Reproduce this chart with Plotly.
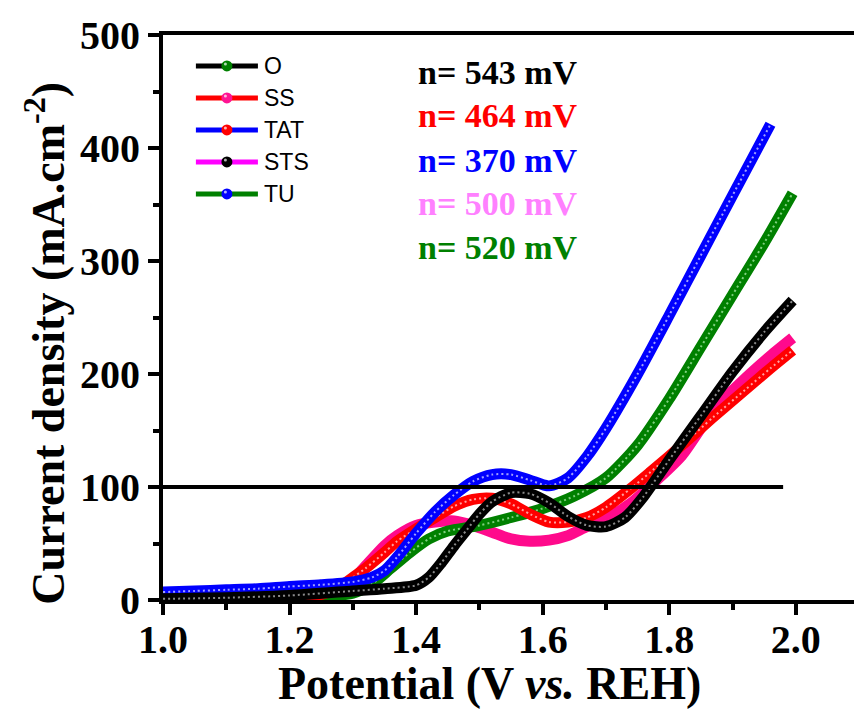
import plotly.graph_objects as go

# ---------------- data ----------------
x_O = [1.00, 1.10, 1.20, 1.30, 1.35, 1.40, 1.42, 1.44, 1.46, 1.48, 1.50, 1.52, 1.55,
       1.58, 1.61, 1.64, 1.67, 1.70, 1.73, 1.76, 1.80, 1.85, 1.90, 1.95, 1.995]
y_O = [1, 2, 4, 8, 10, 13, 20, 33, 48, 62, 76, 87, 95,
       94, 86, 74, 66, 65, 73, 92, 124, 163, 202, 237, 265]

x_SS = [1.00, 1.10, 1.20, 1.25, 1.28, 1.30, 1.32, 1.35, 1.37, 1.40, 1.43, 1.46, 1.49, 1.52,
        1.55, 1.58, 1.61, 1.64, 1.67, 1.70, 1.74, 1.77, 1.82, 1.87, 1.92, 1.96, 1.995]
y_SS = [0.5, 1, 2, 5, 12, 20, 28, 42, 52, 63, 73, 83, 89, 90,
        85, 76, 69, 69, 73, 82, 99, 113, 137, 162, 186, 205, 221]

x_TAT = [1.00, 1.05, 1.10, 1.15, 1.20, 1.25, 1.30, 1.33, 1.35, 1.37, 1.40, 1.43, 1.46,
         1.49, 1.52, 1.55, 1.58, 1.61, 1.64, 1.67, 1.70, 1.75, 1.80, 1.85, 1.90, 1.96]
y_TAT = [7, 8, 9, 10, 12, 13.5, 16, 20, 26, 38, 59, 78, 93,
         105, 111, 111, 106, 101, 108, 127, 152, 200, 252, 305, 358, 421]

x_STS = [1.00, 1.10, 1.20, 1.25, 1.28, 1.30, 1.32, 1.35, 1.37, 1.40, 1.43, 1.46, 1.49, 1.52,
         1.55, 1.58, 1.61, 1.64, 1.67, 1.70, 1.74, 1.78, 1.82, 1.87, 1.92, 1.96, 1.995]
y_STS = [0.5, 1, 2, 5, 12, 18, 30, 48, 57, 66, 69, 70, 66, 60,
         54, 52, 53, 57, 65, 72, 86, 106, 128, 168, 196, 216, 232]

x_TU = [1.00, 1.10, 1.20, 1.25, 1.30, 1.33, 1.36, 1.39, 1.42, 1.45, 1.50, 1.55, 1.60,
        1.65, 1.70, 1.75, 1.80, 1.85, 1.90, 1.95, 1.995]
y_TU = [0.5, 1, 2, 3, 6, 14, 28, 42, 54, 61, 66, 73, 81,
        92, 108, 137, 178, 224, 270, 316, 360]

ref_level = 100
ref_x = [1.0, 1.98]

legend_labels = ["O", "SS", "TAT", "STS", "TU"]
legend_line_colors = ["#000000", "#FF0000", "#0000FF", "#FF00FF", "#008000"]
legend_ball_colors = ["#008000", "#FF1493", "#FF0000", "#000000", "#0000FF"]

eta_texts = ["n= 543 mV", "n= 464 mV", "n= 370 mV", "n= 500 mV", "n= 520 mV"]
eta_colors = ["#000000", "#FF0000", "#0000FF", "#FF80FF", "#008000"]

x_ticks = [1.0, 1.2, 1.4, 1.6, 1.8, 2.0]
y_ticks = [0, 100, 200, 300, 400, 500]

# ---------------- figure ----------------
fig = go.Figure()

# drawing order (bottom -> top): STS, TU, SS, TAT, O
series = [
    (x_STS, y_STS, "#FF0A8C", "#FF7FC0", False),
    (x_TU, y_TU, "#008000", "#7FD07F", True),
    (x_SS, y_SS, "#FF0000", "#FFA0A0", True),
    (x_TAT, y_TAT, "#0000FF", "#A0A0FF", True),
    (x_O, y_O, "#000000", "#8A8A8A", True),
]
for xs, ys, col, hi, beads in series:
    fig.add_trace(go.Scatter(x=xs, y=ys, mode="lines",
                             line=dict(color=col, width=11, shape="spline", smoothing=0.7),
                             showlegend=False, hoverinfo="skip"))
    if beads:
        fig.add_trace(go.Scatter(x=xs, y=ys, mode="lines",
                                 line=dict(color=hi, width=2, shape="spline", smoothing=0.7,
                                           dash="2px,3px"),
                                 showlegend=False, hoverinfo="skip"))

serif = "Liberation Serif"

# reference line at 100 mA/cm2
fig.add_shape(type="line", x0=ref_x[0], x1=ref_x[1], y0=ref_level, y1=ref_level,
              xref="x", yref="y", line=dict(color="black", width=4), layer="above")

# manual legend
leg_x0, leg_x1, leg_xm, leg_xt = 1.052, 1.150, 1.101, 1.156
leg_y = [472.6, 444.3, 416.0, 387.7, 359.4]
for lab, lc, bc, yy in zip(legend_labels, legend_line_colors, legend_ball_colors, leg_y):
    fig.add_shape(type="line", x0=leg_x0, x1=leg_x1, y0=yy, y1=yy, xref="x", yref="y",
                  line=dict(color=lc, width=5), layer="above")
    fig.add_shape(type="circle", xref="x", yref="y", xsizemode="pixel", ysizemode="pixel",
                  xanchor=leg_xm, yanchor=yy, x0=-5.5, x1=5.5, y0=-5.5, y1=5.5,
                  fillcolor=bc, line=dict(color=bc, width=0), layer="above")
    fig.add_shape(type="circle", xref="x", yref="y", xsizemode="pixel", ysizemode="pixel",
                  xanchor=leg_xm, yanchor=yy, x0=-3, x1=0, y0=0.5, y1=3.5,
                  fillcolor="rgba(255,255,255,0.7)", line=dict(width=0), layer="above")
    fig.add_annotation(x=leg_xt, y=yy, xref="x", yref="y", text=lab, showarrow=False,
                       xanchor="left", yanchor="middle",
                       font=dict(family="Liberation Sans", size=23, color="black"))

# overpotential labels
eta_y = [467, 429, 389, 351, 312]
for t, c, yy in zip(eta_texts, eta_colors, eta_y):
    fig.add_annotation(x=1.40, y=yy, xref="x", yref="y", text=t, showarrow=False,
                       xanchor="left", yanchor="middle",
                       font=dict(family=serif, size=34, color=c, weight="bold"))

tick_font = dict(family=serif, size=40, color="black", weight="bold")
title_font = dict(family=serif, size=46, color="black", weight="bold")

# axis titles (placed as annotations to match the reference's position)
fig.add_annotation(x=-0.171, y=0.455, xref="paper", yref="paper", textangle=-90,
                   text="Current density (mA.cm<sup>-2</sup>)", showarrow=False,
                   xanchor="center", yanchor="middle", font=title_font)
fig.add_annotation(x=0.473, y=-0.147, xref="paper", yref="paper",
                   text="Potential (V <i>vs.</i> REH)", showarrow=False,
                   xanchor="center", yanchor="middle", font=title_font)

fig.update_xaxes(range=[1.0, 2.092], tickvals=x_ticks, ticktext=[f"{v:.1f}" for v in x_ticks],
                 ticks="outside", ticklen=11, tickwidth=4, tickcolor="black",
                 showline=True, linewidth=4, linecolor="black", mirror=True,
                 showgrid=False, zeroline=False, tickfont=tick_font, ticklabelstandoff=-10,
                 minor=dict(dtick=0.1, tick0=1.0, ticks="outside", ticklen=6, tickwidth=4,
                            tickcolor="black", showgrid=False),
                 automargin=False)
fig.update_yaxes(range=[0, 500], tickvals=y_ticks, ticks="outside", ticklen=11, tickwidth=4,
                 tickcolor="black", showline=True, linewidth=4, linecolor="black",
                 showgrid=False, zeroline=False, tickfont=tick_font,
                 minor=dict(dtick=50, tick0=0, ticks="outside", ticklen=6, tickwidth=4,
                            tickcolor="black", showgrid=False),
                 automargin=False)

fig.update_layout(width=854, height=710, margin=dict(l=163, r=0, t=35, b=110),
                  plot_bgcolor="white", paper_bgcolor="white", showlegend=False)

fig.write_html("out.html", config={"displayModeBar": False},
               post_script="document.body.style.margin='0px';")
